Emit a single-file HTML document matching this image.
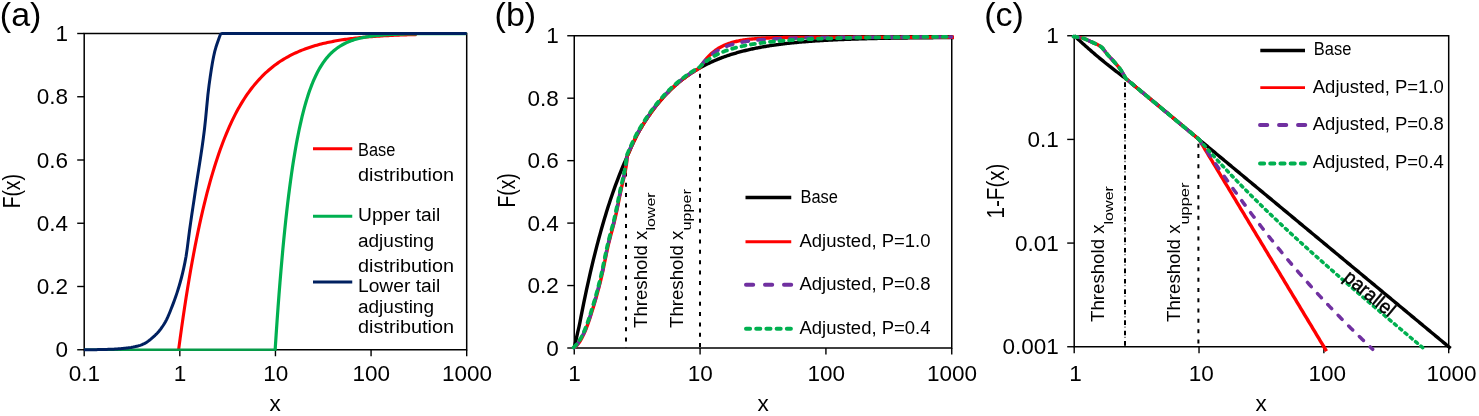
<!DOCTYPE html>
<html lang="en"><head><meta charset="utf-8"><title>Distribution tail adjustment</title>
<style>html,body{margin:0;padding:0;background:#fff}body{width:1479px;height:416px;overflow:hidden}svg{display:block}text{font-family:'Liberation Sans', sans-serif}</style></head><body>
<svg width="1479" height="416" viewBox="0 0 1479 416">
<rect width="1479" height="416" fill="#fff"/>
<g id="panel-a">
<path d="M84.20 33.50 H466.70 V349.75 H84.20 Z" fill="none" stroke="#000000" stroke-width="1.5"/>
<path d="M77.20 33.50 H84.20" stroke="#000000" stroke-width="1.4"/>
<text x="68.00" y="41.00" font-size="22.5" text-anchor="end" fill="#000">1</text>
<path d="M77.20 96.75 H84.20" stroke="#000000" stroke-width="1.4"/>
<text x="68.00" y="104.25" font-size="22.5" text-anchor="end" fill="#000">0.8</text>
<path d="M77.20 160.00 H84.20" stroke="#000000" stroke-width="1.4"/>
<text x="68.00" y="167.50" font-size="22.5" text-anchor="end" fill="#000">0.6</text>
<path d="M77.20 223.25 H84.20" stroke="#000000" stroke-width="1.4"/>
<text x="68.00" y="230.75" font-size="22.5" text-anchor="end" fill="#000">0.4</text>
<path d="M77.20 286.50 H84.20" stroke="#000000" stroke-width="1.4"/>
<text x="68.00" y="294.00" font-size="22.5" text-anchor="end" fill="#000">0.2</text>
<path d="M77.20 349.75 H84.20" stroke="#000000" stroke-width="1.4"/>
<text x="68.00" y="357.25" font-size="22.5" text-anchor="end" fill="#000">0</text>
<path d="M84.20 349.75 V356.25" stroke="#000000" stroke-width="1.4"/>
<text x="84.50" y="381.20" font-size="22.5" text-anchor="middle" fill="#000">0.1</text>
<path d="M179.82 349.75 V356.25" stroke="#000000" stroke-width="1.4"/>
<text x="180.12" y="381.20" font-size="22.5" text-anchor="middle" fill="#000">1</text>
<path d="M275.45 349.75 V356.25" stroke="#000000" stroke-width="1.4"/>
<text x="275.75" y="381.20" font-size="22.5" text-anchor="middle" fill="#000">10</text>
<path d="M371.07 349.75 V356.25" stroke="#000000" stroke-width="1.4"/>
<text x="371.38" y="381.20" font-size="22.5" text-anchor="middle" fill="#000">100</text>
<path d="M466.70 349.75 V356.25" stroke="#000000" stroke-width="1.4"/>
<text x="467.00" y="381.20" font-size="22.5" text-anchor="middle" fill="#000">1000</text>
<path d="M178.62 349.75 L180.11 338.61 L181.60 327.86 L183.09 317.48 L184.58 307.48 L186.07 297.82 L187.56 288.51 L189.05 279.52 L190.54 270.85 L192.03 262.49 L193.52 254.42 L195.01 246.64 L196.50 239.13 L197.99 231.88 L199.48 224.89 L200.97 218.15 L202.46 211.64 L203.95 205.36 L205.44 199.31 L206.93 193.46 L208.42 187.83 L209.91 182.39 L211.40 177.14 L212.89 172.08 L214.38 167.20 L215.87 162.49 L217.36 157.94 L218.85 153.56 L220.34 149.33 L221.83 145.25 L223.32 141.31 L224.81 137.51 L226.30 133.84 L227.79 130.31 L229.28 126.90 L230.77 123.61 L232.26 120.43 L233.75 117.37 L235.24 114.41 L236.73 111.56 L238.22 108.81 L239.72 106.16 L241.24 103.60 L242.76 101.13 L244.28 98.74 L245.80 96.44 L247.32 94.23 L248.84 92.09 L250.36 90.02 L251.88 88.03 L253.40 86.11 L254.92 84.26 L256.44 82.47 L257.96 80.74 L259.48 79.08 L261.00 77.47 L262.52 75.92 L264.04 74.43 L265.56 72.98 L267.08 71.59 L268.60 70.25 L270.12 68.96 L271.64 67.71 L273.15 66.50 L274.67 65.34 L276.19 64.22 L277.71 63.13 L279.23 62.09 L280.75 61.08 L282.27 60.11 L283.79 59.17 L285.31 58.27 L286.83 57.40 L288.35 56.55 L289.87 55.74 L291.39 54.96 L292.91 54.20 L294.43 53.47 L295.95 52.77 L297.47 52.09 L298.99 51.43 L300.50 50.80 L301.99 50.19 L303.48 49.60 L304.97 49.04 L306.46 48.49 L307.95 47.96 L309.44 47.45 L310.93 46.96 L312.42 46.49 L313.91 46.03 L315.39 45.59 L316.88 45.16 L318.37 44.75 L319.86 44.35 L321.35 43.97 L322.84 43.60 L324.33 43.25 L325.82 42.90 L327.31 42.57 L328.80 42.25 L330.29 41.94 L331.78 41.65 L333.27 41.36 L334.76 41.08 L336.25 40.81 L337.74 40.56 L339.23 40.31 L340.72 40.07 L342.21 39.84 L343.70 39.61 L345.19 39.40 L346.68 39.19 L348.17 38.99 L349.66 38.80 L351.15 38.61 L352.64 38.43 L354.13 38.26 L355.62 38.09 L357.11 37.93 L358.60 37.77 L360.09 37.62 L361.58 37.48 L363.07 37.34 L364.56 37.20 L366.05 37.07 L367.54 36.94 L369.03 36.82 L370.52 36.71 L372.01 36.59 L373.50 36.48 L374.99 36.38 L376.48 36.28 L377.97 36.18 L379.46 36.08 L380.95 35.99 L382.43 35.91 L383.92 35.82 L385.41 35.74 L386.90 35.66 L388.39 35.58 L389.88 35.51 L391.37 35.44 L392.86 35.37 L394.35 35.31 L395.84 35.24 L397.33 35.18 L398.82 35.12 L400.31 35.06 L401.80 35.01 L403.29 34.96 L404.78 34.90 L406.27 34.86 L407.76 34.81 L409.25 34.76 L410.74 34.72 L412.23 34.67 L413.72 34.63 L415.21 34.59 L416.70 34.55" fill="none" stroke="#ff0000" stroke-width="3.1" stroke-linejoin="round" stroke-linecap="butt"/>
<path d="M84.20 349.75 H276.65" stroke="#069a48" stroke-width="2.3"/>
<path d="M275.15 349.75 L276.11 335.03 L277.07 320.99 L278.03 307.61 L278.99 294.85 L279.96 282.68 L280.92 271.08 L281.88 260.02 L282.84 249.47 L283.80 239.42 L284.76 229.83 L285.72 220.69 L286.68 211.98 L287.64 203.67 L288.60 195.75 L289.57 188.20 L290.53 180.99 L291.49 174.13 L292.45 167.58 L293.41 161.34 L294.37 155.39 L295.33 149.71 L296.29 144.30 L297.25 139.15 L298.22 134.23 L299.18 129.54 L300.14 125.07 L301.10 120.80 L302.06 116.74 L303.02 112.86 L303.98 109.17 L304.94 105.65 L305.90 102.29 L306.86 99.09 L307.83 96.03 L308.79 93.12 L309.75 90.35 L310.71 87.70 L311.67 85.18 L312.63 82.77 L313.59 80.48 L314.55 78.29 L315.51 76.21 L316.48 74.22 L317.44 72.32 L318.40 70.51 L319.36 68.79 L320.32 67.15 L321.28 65.58 L322.24 64.09 L323.20 62.66 L324.16 61.31 L325.12 60.01 L326.09 58.78 L327.05 57.60 L328.01 56.48 L328.97 55.41 L329.93 54.39 L330.89 53.42 L331.85 52.49 L332.81 51.61 L333.77 50.76 L334.74 49.96 L335.70 49.19 L336.66 48.46 L337.62 47.77 L338.58 47.10 L339.54 46.47 L340.50 45.86 L341.46 45.29 L342.42 44.74 L343.38 44.22 L344.35 43.72 L345.31 43.24 L346.27 42.79 L347.23 42.36 L348.19 41.94 L349.15 41.55 L350.11 41.18 L351.07 40.82 L352.03 40.48 L353.00 40.15 L353.96 39.84 L354.92 39.55 L355.88 39.27 L356.84 39.00 L357.80 38.74 L358.76 38.50 L359.72 38.27 L360.68 38.04 L361.64 37.83 L362.61 37.63 L363.57 37.44 L364.53 37.25 L365.49 37.08 L366.45 36.91 L367.41 36.75 L368.37 36.60 L369.33 36.46 L370.29 36.32 L371.26 36.19 L372.22 36.06 L373.18 35.94 L374.14 35.83 L375.10 35.72 L376.06 35.62 L377.02 35.52 L377.98 35.43 L378.94 35.34 L379.91 35.25 L380.87 35.17 L381.83 35.09 L382.79 35.02 L383.75 34.95 L384.71 34.88 L385.67 34.82 L386.63 34.75 L387.59 34.70 L388.55 34.64 L389.52 34.59 L390.48 34.54 L391.44 34.49 L392.40 34.44 L393.36 34.40 L394.32 34.36 L395.28 34.32 L396.24 34.28 L397.20 34.24 L398.17 34.21 L399.13 34.17 L400.09 34.14 L401.05 34.11 L402.01 34.09 L402.97 34.06 L403.93 34.03 L404.89 34.01 L405.85 33.98 L406.81 33.96 L407.78 33.94 L408.74 33.92 L409.70 33.90 L410.66 33.88 L411.62 33.86 L412.58 33.85 L413.54 33.83 L414.50 33.81 L415.46 33.80 L416.43 33.79 L417.39 33.77 L418.35 33.76 L419.31 33.75 L420.27 33.74 L421.23 33.73 L422.19 33.71 L423.15 33.70 L424.11 33.70 L425.07 33.69 L426.04 33.68 L427.00 33.67 L427.96 33.66 L428.92 33.65 L429.88 33.65 L430.84 33.64 L431.80 33.63 L432.76 33.63 L433.72 33.62 L434.69 33.62 L435.65 33.61 L436.61 33.61 L437.57 33.60 L438.53 33.60 L439.49 33.59 L440.45 33.59 L441.41 33.58 L442.37 33.58 L443.33 33.58 L444.30 33.57 L445.26 33.57 L446.22 33.57 L447.18 33.56 L448.14 33.56 L449.10 33.56 L450.06 33.55 L451.02 33.55 L451.98 33.55 L452.95 33.55 L453.91 33.54 L454.87 33.54 L455.83 33.54 L456.79 33.54 L457.75 33.54 L458.71 33.54 L459.67 33.53 L460.63 33.53 L461.59 33.53 L462.56 33.53 L463.52 33.53 L464.48 33.53 L465.44 33.53 L466.40 33.52" fill="none" stroke="#00b050" stroke-width="3.2" stroke-linejoin="miter" stroke-linecap="butt"/>
<path d="M84.00 349.75 L85.15 349.75 L86.29 349.75 L87.44 349.74 L88.59 349.73 L89.74 349.72 L90.88 349.71 L92.03 349.70 L93.18 349.68 L94.32 349.67 L95.47 349.65 L96.62 349.63 L97.76 349.61 L98.91 349.58 L100.06 349.56 L101.21 349.53 L102.35 349.51 L103.50 349.48 L104.65 349.45 L105.79 349.42 L106.94 349.39 L108.09 349.36 L109.24 349.32 L110.38 349.29 L111.53 349.25 L112.68 349.20 L113.82 349.14 L114.97 349.08 L116.12 349.00 L117.26 348.92 L118.41 348.84 L119.56 348.74 L120.71 348.64 L121.85 348.53 L123.00 348.42 L124.15 348.30 L125.29 348.17 L126.44 348.04 L127.59 347.90 L128.74 347.76 L129.88 347.62 L131.03 347.46 L132.18 347.27 L133.32 347.07 L134.47 346.84 L135.62 346.58 L136.76 346.30 L137.91 346.00 L139.06 345.66 L140.21 345.31 L141.35 344.92 L142.50 344.49 L143.65 343.98 L144.79 343.38 L145.94 342.70 L147.09 341.95 L148.24 341.13 L149.38 340.26 L150.53 339.34 L151.68 338.37 L152.82 337.37 L153.97 336.33 L155.12 335.28 L156.26 334.17 L157.41 332.97 L158.56 331.68 L159.71 330.29 L160.85 328.81 L162.00 327.22 L163.15 325.52 L164.29 323.73 L165.44 321.79 L166.59 319.59 L167.74 317.14 L168.88 314.50 L170.03 311.70 L171.18 308.81 L172.32 305.86 L173.47 302.86 L174.62 299.76 L175.76 296.53 L176.91 293.14 L178.06 289.57 L179.21 285.78 L180.35 281.75 L181.50 277.49 L182.65 272.92 L183.79 267.93 L184.94 262.41 L186.09 256.21 L187.24 248.38 L188.38 239.38 L189.53 230.46 L190.68 222.38 L191.82 214.57 L192.97 206.89 L194.12 199.26 L195.26 191.59 L196.41 183.95 L197.56 176.57 L198.71 169.32 L199.85 162.03 L201.00 154.56 L202.15 146.75 L203.29 138.44 L204.44 129.48 L205.59 118.88 L206.74 106.76 L207.88 95.00 L209.03 85.39 L210.18 77.10 L211.32 69.43 L212.47 62.53 L213.62 56.48 L214.76 51.42 L215.91 47.30 L217.06 43.75 L218.21 40.40 L219.35 37.22 L220.50 34.30 L222.00 33.50 L466.70 33.50" fill="none" stroke="#002060" stroke-width="3.0" stroke-linejoin="round" stroke-linecap="butt"/>
<text x="-0.20" y="26.40" font-size="34" text-anchor="start" fill="#000">(a)</text>
<text x="19.80" y="191.20" font-size="23" text-anchor="middle" fill="#000" textLength="34.30" lengthAdjust="spacingAndGlyphs" transform="rotate(-90 19.80 191.20)">F(x)</text>
<text x="275.00" y="411.20" font-size="22.5" text-anchor="middle" fill="#000">x</text>
<path d="M313 148.75 H352.25" stroke="#ff0000" stroke-width="2.8"/>
<path d="M313 216.25 H352.25" stroke="#00b050" stroke-width="2.8"/>
<path d="M313 282.00 H352.25" stroke="#002060" stroke-width="2.8"/>
<text x="358.00" y="155.75" font-size="18" text-anchor="start" fill="#000" textLength="37.25" lengthAdjust="spacingAndGlyphs">Base</text>
<text x="358.00" y="181.25" font-size="18" text-anchor="start" fill="#000" textLength="96.00" lengthAdjust="spacingAndGlyphs">distribution</text>
<text x="358.00" y="221.25" font-size="18" text-anchor="start" fill="#000" textLength="82.25" lengthAdjust="spacingAndGlyphs">Upper tail</text>
<text x="358.00" y="246.75" font-size="18" text-anchor="start" fill="#000" textLength="76.00" lengthAdjust="spacingAndGlyphs">adjusting</text>
<text x="358.00" y="271.75" font-size="18" text-anchor="start" fill="#000" textLength="96.00" lengthAdjust="spacingAndGlyphs">distribution</text>
<text x="358.00" y="291.75" font-size="18" text-anchor="start" fill="#000" textLength="82.25" lengthAdjust="spacingAndGlyphs">Lower tail</text>
<text x="358.00" y="312.50" font-size="18" text-anchor="start" fill="#000" textLength="76.00" lengthAdjust="spacingAndGlyphs">adjusting</text>
<text x="358.00" y="333.00" font-size="18" text-anchor="start" fill="#000" textLength="96.00" lengthAdjust="spacingAndGlyphs">distribution</text>
</g>
<g id="panel-b">
<path d="M574.25 35.75 H951.75 V348.00 H574.25 Z" fill="none" stroke="#000000" stroke-width="1.5"/>
<path d="M567.25 35.75 H574.25" stroke="#000000" stroke-width="1.4"/>
<text x="558.80" y="43.25" font-size="22.5" text-anchor="end" fill="#000">1</text>
<path d="M567.25 98.20 H574.25" stroke="#000000" stroke-width="1.4"/>
<text x="558.80" y="105.70" font-size="22.5" text-anchor="end" fill="#000">0.8</text>
<path d="M567.25 160.65 H574.25" stroke="#000000" stroke-width="1.4"/>
<text x="558.80" y="168.15" font-size="22.5" text-anchor="end" fill="#000">0.6</text>
<path d="M567.25 223.10 H574.25" stroke="#000000" stroke-width="1.4"/>
<text x="558.80" y="230.60" font-size="22.5" text-anchor="end" fill="#000">0.4</text>
<path d="M567.25 285.55 H574.25" stroke="#000000" stroke-width="1.4"/>
<text x="558.80" y="293.05" font-size="22.5" text-anchor="end" fill="#000">0.2</text>
<path d="M567.25 348.00 H574.25" stroke="#000000" stroke-width="1.4"/>
<text x="558.80" y="355.50" font-size="22.5" text-anchor="end" fill="#000">0</text>
<path d="M574.25 348.00 V354.50" stroke="#000000" stroke-width="1.4"/>
<text x="574.55" y="381.20" font-size="22.5" text-anchor="middle" fill="#000">1</text>
<path d="M700.08 348.00 V354.50" stroke="#000000" stroke-width="1.4"/>
<text x="700.38" y="381.20" font-size="22.5" text-anchor="middle" fill="#000">10</text>
<path d="M825.92 348.00 V354.50" stroke="#000000" stroke-width="1.4"/>
<text x="826.22" y="381.20" font-size="22.5" text-anchor="middle" fill="#000">100</text>
<path d="M951.75 348.00 V354.50" stroke="#000000" stroke-width="1.4"/>
<text x="952.05" y="381.20" font-size="22.5" text-anchor="middle" fill="#000">1000</text>
<path d="M626 172.5 V348.00" stroke="#000" stroke-width="2" stroke-dasharray="4 6.31"/>
<path d="M700 73.75 V348.00" stroke="#000" stroke-width="2" stroke-dasharray="4 6.36"/>
<path d="M574.25 348.00 L575.41 342.64 L576.58 337.37 L577.75 332.20 L578.93 327.11 L579.98 322.11 L580.93 317.19 L581.87 312.36 L582.82 307.61 L583.77 302.95 L584.71 298.36 L585.66 293.85 L586.60 289.42 L587.55 285.07 L588.50 280.79 L589.44 276.59 L590.39 272.45 L591.33 268.39 L592.28 264.40 L593.23 260.47 L594.17 256.62 L595.12 252.83 L596.06 249.10 L597.01 245.44 L597.96 241.84 L598.90 238.30 L599.85 234.83 L600.80 231.41 L601.74 228.05 L602.69 224.75 L603.63 221.51 L604.58 218.32 L605.53 215.19 L606.47 212.11 L607.42 209.09 L608.36 206.11 L609.31 203.19 L610.26 200.32 L611.20 197.50 L612.15 194.72 L613.09 192.00 L614.04 189.32 L614.99 186.69 L615.93 184.10 L616.88 181.56 L617.83 179.06 L618.77 176.60 L619.72 174.19 L620.66 171.82 L621.61 169.49 L622.56 167.20 L623.50 164.95 L624.45 162.73 L625.39 160.56 L626.33 158.42 L627.20 156.33 L627.37 155.93 L628.07 154.26 L628.94 152.24 L629.82 150.24 L630.69 148.29 L631.56 146.36 L632.43 144.47 L633.30 142.61 L634.17 140.79 L635.04 139.00 L635.91 137.23 L636.78 135.50 L637.65 133.80 L638.59 132.13 L639.53 130.48 L640.48 128.87 L641.42 127.28 L642.37 125.72 L643.32 124.19 L644.26 122.68 L645.21 121.20 L646.15 119.75 L647.10 118.32 L648.05 116.91 L648.99 115.53 L649.94 114.18 L650.89 112.85 L651.83 111.54 L652.78 110.25 L653.72 108.99 L654.67 107.74 L655.62 106.52 L656.56 105.32 L657.51 104.15 L658.45 102.99 L659.40 101.85 L660.35 100.73 L661.29 99.63 L662.24 98.55 L663.18 97.49 L664.13 96.45 L665.08 95.43 L666.02 94.42 L666.97 93.43 L667.92 92.46 L668.86 91.50 L669.81 90.56 L670.75 89.64 L671.70 88.74 L672.65 87.85 L673.59 86.97 L674.54 86.11 L675.48 85.27 L676.43 84.44 L677.38 83.62 L678.32 82.82 L679.27 82.03 L680.21 81.26 L681.16 80.50 L682.11 79.75 L683.05 79.01 L684.00 78.29 L684.95 77.58 L685.89 76.89 L686.84 76.20 L687.78 75.53 L688.73 74.87 L689.68 74.22 L690.62 73.58 L691.57 72.95 L692.51 72.33 L693.46 71.73 L694.41 71.13 L695.35 70.55 L696.30 69.97 L697.24 69.41 L698.19 68.85 L699.14 68.31 L700.08 67.77 L701.03 67.25 L701.98 66.73 L702.92 66.22 L703.87 65.72 L704.81 65.23 L705.76 64.75 L706.71 64.27 L707.65 63.80 L708.60 63.35 L709.54 62.90 L710.49 62.45 L711.44 62.02 L712.38 61.59 L713.33 61.17 L714.28 60.76 L715.22 60.35 L716.17 59.96 L717.11 59.57 L718.06 59.18 L719.01 58.80 L719.95 58.43 L720.90 58.07 L721.84 57.71 L722.79 57.35 L723.74 57.01 L724.68 56.67 L725.63 56.33 L726.57 56.00 L727.52 55.68 L728.47 55.36 L729.41 55.05 L730.36 54.74 L731.31 54.44 L732.25 54.15 L733.20 53.86 L734.14 53.57 L735.09 53.29 L736.04 53.01 L736.98 52.74 L737.93 52.47 L738.87 52.21 L739.82 51.96 L740.77 51.70 L741.71 51.45 L742.66 51.21 L743.60 50.97 L744.55 50.73 L745.50 50.50 L746.44 50.27 L747.39 50.05 L748.34 49.83 L749.28 49.61 L750.23 49.40 L751.17 49.19 L752.12 48.98 L753.07 48.78 L754.01 48.58 L754.96 48.39 L755.90 48.20 L756.85 48.01 L757.80 47.82 L758.74 47.64 L759.69 47.46 L760.63 47.29 L761.58 47.11 L762.53 46.94 L763.47 46.78 L764.42 46.61 L765.37 46.45 L766.31 46.29 L767.26 46.14 L768.20 45.99 L769.15 45.84 L770.10 45.69 L771.04 45.54 L771.99 45.40 L772.93 45.26 L773.88 45.12 L774.83 44.99 L775.77 44.85 L776.72 44.72 L777.66 44.60 L778.61 44.47 L779.56 44.34 L780.50 44.22 L781.45 44.10 L782.40 43.99 L783.34 43.87 L784.29 43.76 L785.23 43.64 L786.18 43.53 L787.13 43.43 L788.07 43.32 L789.02 43.22 L789.96 43.11 L790.91 43.01 L791.86 42.91 L792.80 42.82 L793.75 42.72 L794.69 42.63 L795.64 42.53 L796.59 42.44 L797.53 42.35 L798.48 42.27 L799.43 42.18 L800.37 42.10 L801.32 42.01 L802.26 41.93 L803.21 41.85 L804.16 41.77 L805.10 41.69 L806.05 41.62 L806.99 41.54 L807.94 41.47 L808.89 41.40 L809.83 41.32 L810.78 41.25 L811.72 41.19 L812.67 41.12 L813.62 41.05 L814.56 40.99 L815.51 40.92 L816.46 40.86 L817.40 40.80 L818.35 40.74 L819.29 40.68 L820.24 40.62 L821.19 40.56 L822.13 40.50 L823.08 40.45 L824.02 40.39 L824.97 40.34 L825.92 40.28 L826.86 40.23 L827.81 40.18 L828.76 40.13 L829.70 40.08 L830.65 40.03 L831.59 39.99 L832.54 39.94 L833.49 39.89 L834.43 39.85 L835.38 39.80 L836.32 39.76 L837.27 39.72 L838.22 39.67 L839.16 39.63 L840.11 39.59 L841.05 39.55 L842.00 39.51 L842.95 39.47 L843.89 39.43 L844.84 39.40 L845.79 39.36 L846.73 39.32 L847.68 39.29 L848.62 39.25 L849.57 39.22 L850.52 39.18 L851.46 39.15 L852.41 39.12 L853.35 39.09 L854.30 39.05 L855.25 39.02 L856.19 38.99 L857.14 38.96 L858.08 38.93 L859.03 38.91 L859.98 38.88 L860.92 38.85 L861.87 38.82 L862.82 38.79 L863.76 38.77 L864.71 38.74 L865.65 38.72 L866.60 38.69 L867.55 38.67 L868.49 38.64 L869.44 38.62 L870.38 38.59 L871.33 38.57 L872.28 38.55 L873.22 38.53 L874.17 38.50 L875.11 38.48 L876.06 38.46 L877.01 38.44 L877.95 38.42 L878.90 38.40 L879.85 38.38 L880.79 38.36 L881.74 38.34 L882.68 38.32 L883.63 38.31 L884.58 38.29 L885.52 38.27 L886.47 38.25 L887.41 38.23 L888.36 38.22 L889.31 38.20 L890.25 38.18 L891.20 38.17 L892.14 38.15 L893.09 38.14 L894.04 38.12 L894.98 38.11 L895.93 38.09 L896.88 38.08 L897.82 38.06 L898.77 38.05 L899.71 38.04 L900.66 38.02 L901.61 38.01 L902.55 38.00 L903.50 37.98 L904.44 37.97 L905.39 37.96 L906.34 37.95 L907.28 37.93 L908.23 37.92 L909.17 37.91 L910.12 37.90 L911.07 37.89 L912.01 37.88 L912.96 37.87 L913.91 37.86 L914.85 37.85 L915.80 37.84 L916.74 37.83 L917.69 37.82 L918.64 37.81 L919.58 37.80 L920.53 37.79 L921.47 37.78 L922.42 37.77 L923.37 37.76 L924.31 37.75 L925.26 37.74 L926.20 37.73 L927.15 37.73 L928.10 37.72 L929.04 37.71 L929.99 37.70 L930.94 37.69 L931.88 37.69 L932.83 37.68 L933.77 37.67 L934.72 37.66 L935.67 37.66 L936.61 37.65 L937.56 37.64 L938.50 37.64 L939.45 37.63 L940.40 37.62 L941.34 37.62 L942.29 37.61 L943.23 37.60 L944.18 37.60 L945.13 37.59 L946.07 37.59 L947.02 37.58 L947.97 37.58 L948.91 37.57 L949.86 37.56 L950.80 37.56 L951.75 37.55 L953.95 37.54" fill="none" stroke="#000000" stroke-width="3.4" stroke-linejoin="round" stroke-linecap="butt"/>
<path d="M574.25 348.00 L575.41 346.87 L576.58 345.63 L577.75 344.28 L578.93 342.84 L579.98 341.30 L580.93 339.67 L581.87 337.91 L582.82 336.03 L583.77 334.04 L584.71 331.94 L585.66 329.73 L586.60 327.41 L587.55 324.91 L588.50 322.26 L589.44 319.47 L590.39 316.57 L591.33 313.59 L592.28 310.53 L593.23 307.44 L594.17 304.31 L595.12 301.10 L596.06 297.80 L597.01 294.41 L597.96 290.92 L598.90 287.34 L599.85 283.65 L600.80 279.85 L601.74 275.86 L602.69 271.58 L603.63 267.09 L604.58 262.48 L605.53 257.84 L606.47 253.27 L607.42 248.84 L608.36 244.66 L609.31 240.77 L610.26 237.13 L611.20 233.62 L612.15 230.15 L613.09 226.61 L614.04 222.91 L614.99 218.94 L615.93 214.70 L616.88 210.24 L617.83 205.64 L618.77 200.96 L619.72 196.28 L620.66 191.66 L621.61 187.24 L622.56 183.17 L623.50 179.19 L624.45 175.02 L625.39 170.36 L626.33 164.93 L627.20 157.54 L627.37 155.93 L628.07 154.26 L628.94 152.24 L629.82 150.24 L630.69 148.29 L631.56 146.36 L632.43 144.47 L633.30 142.61 L634.17 140.79 L635.04 139.00 L635.91 137.23 L636.78 135.50 L637.65 133.80 L638.59 132.13 L639.53 130.48 L640.48 128.87 L641.42 127.28 L642.37 125.72 L643.32 124.19 L644.26 122.68 L645.21 121.20 L646.15 119.75 L647.10 118.32 L648.05 116.91 L648.99 115.53 L649.94 114.18 L650.89 112.85 L651.83 111.54 L652.78 110.25 L653.72 108.99 L654.67 107.74 L655.62 106.52 L656.56 105.32 L657.51 104.15 L658.45 102.99 L659.40 101.85 L660.35 100.73 L661.29 99.63 L662.24 98.55 L663.18 97.49 L664.13 96.45 L665.08 95.43 L666.02 94.42 L666.97 93.43 L667.92 92.46 L668.86 91.50 L669.81 90.56 L670.75 89.64 L671.70 88.74 L672.65 87.85 L673.59 86.97 L674.54 86.11 L675.48 85.27 L676.43 84.44 L677.38 83.62 L678.32 82.82 L679.27 82.03 L680.21 81.26 L681.16 80.50 L682.11 79.75 L683.05 79.01 L684.00 78.29 L684.95 77.58 L685.89 76.89 L686.84 76.20 L687.78 75.53 L688.73 74.87 L689.68 74.22 L690.62 73.58 L691.57 72.95 L692.51 72.33 L693.46 71.73 L694.41 71.13 L695.35 70.55 L696.30 69.97 L697.24 69.41 L698.19 68.85 L699.14 68.31 L700.08 67.77 L701.03 66.22 L701.98 64.75 L702.92 63.35 L703.87 62.02 L704.81 60.76 L705.76 59.57 L706.71 58.43 L707.65 57.35 L708.60 56.33 L709.54 55.36 L710.49 54.44 L711.44 53.57 L712.38 52.74 L713.33 51.96 L714.28 51.21 L715.22 50.50 L716.17 49.83 L717.11 49.19 L718.06 48.58 L719.01 48.01 L719.95 47.46 L720.90 46.94 L721.84 46.45 L722.79 45.99 L723.74 45.54 L724.68 45.12 L725.63 44.72 L726.57 44.34 L727.52 43.99 L728.47 43.64 L729.41 43.32 L730.36 43.01 L731.31 42.72 L732.25 42.44 L733.20 42.18 L734.14 41.93 L735.09 41.69 L736.04 41.47 L736.98 41.25 L737.93 41.05 L738.87 40.86 L739.82 40.68 L740.77 40.50 L741.71 40.34 L742.66 40.18 L743.60 40.03 L744.55 39.89 L745.50 39.76 L746.44 39.63 L747.39 39.51 L748.34 39.40 L749.28 39.29 L750.23 39.18 L751.17 39.09 L752.12 38.99 L753.07 38.91 L754.01 38.82 L754.96 38.74 L755.90 38.67 L756.85 38.59 L757.80 38.53 L758.74 38.46 L759.69 38.40 L760.63 38.34 L761.58 38.29 L762.53 38.23 L763.47 38.18 L764.42 38.14 L765.37 38.09 L766.31 38.05 L767.26 38.01 L768.20 37.97 L769.15 37.93 L770.10 37.90 L771.04 37.87 L771.99 37.84 L772.93 37.81 L773.88 37.78 L774.83 37.75 L775.77 37.73 L776.72 37.70 L777.66 37.68 L778.61 37.66 L779.56 37.64 L780.50 37.62 L781.45 37.60 L782.40 37.58 L783.34 37.56 L784.29 37.55 L785.23 37.53 L786.18 37.52 L787.13 37.51 L788.07 37.49 L789.02 37.48 L789.96 37.47 L790.91 37.46 L791.86 37.45 L792.80 37.44 L793.75 37.43 L794.69 37.42 L795.64 37.41 L796.59 37.40 L797.53 37.39 L798.48 37.39 L799.43 37.38 L800.37 37.37 L801.32 37.37 L802.26 37.36 L803.21 37.36 L804.16 37.35 L805.10 37.35 L806.05 37.34 L806.99 37.34 L807.94 37.33 L808.89 37.33 L809.83 37.32 L810.78 37.32 L811.72 37.32 L812.67 37.31 L813.62 37.31 L814.56 37.31 L815.51 37.30 L816.46 37.30 L817.40 37.30 L818.35 37.30 L819.29 37.29 L820.24 37.29 L821.19 37.29 L822.13 37.29 L823.08 37.29 L824.02 37.28 L824.97 37.28 L825.92 37.28 L826.86 37.28 L827.81 37.28 L828.76 37.28 L829.70 37.27 L830.65 37.27 L831.59 37.27 L832.54 37.27 L833.49 37.27 L834.43 37.27 L835.38 37.27 L836.32 37.27 L837.27 37.27 L838.22 37.27 L839.16 37.26 L840.11 37.26 L841.05 37.26 L842.00 37.26 L842.95 37.26 L843.89 37.26 L844.84 37.26 L845.79 37.26 L846.73 37.26 L847.68 37.26 L848.62 37.26 L849.57 37.26 L850.52 37.26 L851.46 37.26 L852.41 37.26 L853.35 37.26 L854.30 37.26 L855.25 37.26 L856.19 37.26 L857.14 37.26 L858.08 37.26 L859.03 37.25 L859.98 37.25 L860.92 37.25 L861.87 37.25 L862.82 37.25 L863.76 37.25 L864.71 37.25 L865.65 37.25 L866.60 37.25 L867.55 37.25 L868.49 37.25 L869.44 37.25 L870.38 37.25 L871.33 37.25 L872.28 37.25 L873.22 37.25 L874.17 37.25 L875.11 37.25 L876.06 37.25 L877.01 37.25 L877.95 37.25 L878.90 37.25 L879.85 37.25 L880.79 37.25 L881.74 37.25 L882.68 37.25 L883.63 37.25 L884.58 37.25 L885.52 37.25 L886.47 37.25 L887.41 37.25 L888.36 37.25 L889.31 37.25 L890.25 37.25 L891.20 37.25 L892.14 37.25 L893.09 37.25 L894.04 37.25 L894.98 37.25 L895.93 37.25 L896.88 37.25 L897.82 37.25 L898.77 37.25 L899.71 37.25 L900.66 37.25 L901.61 37.25 L902.55 37.25 L903.50 37.25 L904.44 37.25 L905.39 37.25 L906.34 37.25 L907.28 37.25 L908.23 37.25 L909.17 37.25 L910.12 37.25 L911.07 37.25 L912.01 37.25 L912.96 37.25 L913.91 37.25 L914.85 37.25 L915.80 37.25 L916.74 37.25 L917.69 37.25 L918.64 37.25 L919.58 37.25 L920.53 37.25 L921.47 37.25 L922.42 37.25 L923.37 37.25 L924.31 37.25 L925.26 37.25 L926.20 37.25 L927.15 37.25 L928.10 37.25 L929.04 37.25 L929.99 37.25 L930.94 37.25 L931.88 37.25 L932.83 37.25 L933.77 37.25 L934.72 37.25 L935.67 37.25 L936.61 37.25 L937.56 37.25 L938.50 37.25 L939.45 37.25 L940.40 37.25 L941.34 37.25 L942.29 37.25 L943.23 37.25 L944.18 37.25 L945.13 37.25 L946.07 37.25 L947.02 37.25 L947.97 37.25 L948.91 37.25 L949.86 37.25 L950.80 37.25 L951.75 37.25 L953.95 37.25" fill="none" stroke="#ff0000" stroke-width="3.4" stroke-linejoin="round" stroke-linecap="butt"/>
<path d="M573.95 347.70 L575.11 346.57 L576.28 345.33 L577.45 343.98 L578.63 342.54 L579.68 341.00 L580.63 339.37 L581.57 337.61 L582.52 335.73 L583.47 333.74 L584.41 331.64 L585.36 329.43 L586.30 327.11 L587.25 324.61 L588.20 321.96 L589.14 319.17 L590.09 316.27 L591.03 313.29 L591.98 310.23 L592.93 307.14 L593.87 304.01 L594.82 300.80 L595.76 297.50 L596.71 294.11 L597.66 290.62 L598.60 287.04 L599.55 283.35 L600.50 279.55 L601.44 275.56 L602.39 271.28 L603.33 266.79 L604.28 262.18 L605.23 257.54 L606.17 252.97 L607.12 248.54 L608.06 244.36 L609.01 240.47 L609.96 236.83 L610.90 233.32 L611.85 229.85 L612.79 226.31 L613.74 222.61 L614.69 218.64 L615.63 214.40 L616.58 209.94 L617.53 205.34 L618.47 200.66 L619.42 195.98 L620.36 191.36 L621.31 186.94 L622.26 182.87 L623.20 178.89 L624.15 174.72 L625.09 170.06 L626.03 164.63 L626.90 157.24 L627.07 155.63 L627.77 153.96 L628.64 151.94 L629.52 149.94 L630.39 147.99 L631.26 146.06 L632.13 144.17 L633.00 142.31 L633.87 140.49 L634.74 138.70 L635.61 136.93 L636.48 135.20 L637.35 133.50 L638.29 131.83 L639.23 130.18 L640.18 128.57 L641.12 126.98 L642.07 125.42 L643.02 123.89 L643.96 122.38 L644.91 120.90 L645.85 119.45 L646.80 118.02 L647.75 116.61 L648.69 115.23 L649.64 113.88 L650.59 112.55 L651.53 111.24 L652.48 109.95 L653.42 108.69 L654.37 107.44 L655.32 106.22 L656.26 105.02 L657.21 103.85 L658.15 102.69 L659.10 101.55 L660.05 100.43 L660.99 99.33 L661.94 98.25 L662.88 97.19 L663.83 96.15 L664.78 95.13 L665.72 94.12 L666.67 93.13 L667.62 92.16 L668.56 91.20 L669.51 90.26 L670.45 89.34 L671.40 88.44 L672.35 87.55 L673.29 86.67 L674.24 85.81 L675.18 84.97 L676.13 84.14 L677.08 83.32 L678.02 82.52 L678.97 81.73 L679.91 80.96 L680.86 80.20 L681.81 79.45 L682.75 78.71 L683.70 77.99 L684.65 77.28 L685.59 76.59 L686.54 75.90 L687.48 75.23 L688.43 74.57 L689.38 73.92 L690.32 73.28 L691.27 72.65 L692.21 72.03 L693.16 71.43 L694.11 70.83 L695.05 70.25 L696.00 69.67 L696.94 69.11 L697.89 68.55 L698.84 68.01 L699.78 67.47 L700.73 66.12 L701.68 64.84 L702.62 63.62 L703.57 62.46 L704.51 61.35 L705.46 60.30 L706.41 59.30 L707.35 58.34 L708.30 57.43 L709.24 56.57 L710.19 55.74 L711.14 54.96 L712.08 54.21 L713.03 53.50 L713.98 52.82 L714.92 52.17 L715.87 51.55 L716.81 50.96 L717.76 50.40 L718.71 49.86 L719.65 49.35 L720.60 48.87 L721.54 48.40 L722.49 47.96 L723.44 47.53 L724.38 47.13 L725.33 46.74 L726.27 46.37 L727.22 46.02 L728.17 45.68 L729.11 45.36 L730.06 45.05 L731.01 44.76 L731.95 44.48 L732.90 44.21 L733.84 43.95 L734.79 43.71 L735.74 43.47 L736.68 43.25 L737.63 43.03 L738.57 42.83 L739.52 42.63 L740.47 42.44 L741.41 42.26 L742.36 42.08 L743.30 41.92 L744.25 41.76 L745.20 41.60 L746.14 41.46 L747.09 41.31 L748.04 41.18 L748.98 41.05 L749.93 40.92 L750.87 40.80 L751.82 40.69 L752.77 40.58 L753.71 40.47 L754.66 40.37 L755.60 40.27 L756.55 40.17 L757.50 40.08 L758.44 39.99 L759.39 39.91 L760.33 39.83 L761.28 39.75 L762.23 39.67 L763.17 39.60 L764.12 39.53 L765.07 39.46 L766.01 39.40 L766.96 39.33 L767.90 39.27 L768.85 39.21 L769.80 39.16 L770.74 39.10 L771.69 39.05 L772.63 38.99 L773.58 38.94 L774.53 38.90 L775.47 38.85 L776.42 38.80 L777.36 38.76 L778.31 38.72 L779.26 38.68 L780.20 38.64 L781.15 38.60 L782.10 38.56 L783.04 38.52 L783.99 38.49 L784.93 38.45 L785.88 38.42 L786.83 38.39 L787.77 38.36 L788.72 38.33 L789.66 38.30 L790.61 38.27 L791.56 38.24 L792.50 38.21 L793.45 38.18 L794.39 38.16 L795.34 38.13 L796.29 38.11 L797.23 38.09 L798.18 38.06 L799.13 38.04 L800.07 38.02 L801.02 38.00 L801.96 37.97 L802.91 37.95 L803.86 37.93 L804.80 37.91 L805.75 37.89 L806.69 37.88 L807.64 37.86 L808.59 37.84 L809.53 37.82 L810.48 37.81 L811.42 37.79 L812.37 37.77 L813.32 37.76 L814.26 37.74 L815.21 37.73 L816.16 37.71 L817.10 37.70 L818.05 37.68 L818.99 37.67 L819.94 37.66 L820.89 37.64 L821.83 37.63 L822.78 37.62 L823.72 37.60 L824.67 37.59 L825.62 37.58 L826.56 37.57 L827.51 37.56 L828.46 37.55 L829.40 37.54 L830.35 37.52 L831.29 37.51 L832.24 37.50 L833.19 37.49 L834.13 37.48 L835.08 37.47 L836.02 37.47 L836.97 37.46 L837.92 37.45 L838.86 37.44 L839.81 37.43 L840.75 37.42 L841.70 37.41 L842.65 37.40 L843.59 37.40 L844.54 37.39 L845.49 37.38 L846.43 37.37 L847.38 37.36 L848.32 37.36 L849.27 37.35 L850.22 37.34 L851.16 37.34 L852.11 37.33 L853.05 37.32 L854.00 37.32 L854.95 37.31 L855.89 37.30 L856.84 37.30 L857.78 37.29 L858.73 37.28 L859.68 37.28 L860.62 37.27 L861.57 37.27 L862.52 37.26 L863.46 37.26 L864.41 37.25 L865.35 37.25 L866.30 37.24 L867.25 37.24 L868.19 37.23 L869.14 37.23 L870.08 37.22 L871.03 37.22 L871.98 37.21 L872.92 37.21 L873.87 37.20 L874.81 37.20 L875.76 37.19 L876.71 37.19 L877.65 37.19 L878.60 37.18 L879.55 37.18 L880.49 37.17 L881.44 37.17 L882.38 37.17 L883.33 37.16 L884.28 37.16 L885.22 37.15 L886.17 37.15 L887.11 37.15 L888.06 37.14 L889.01 37.14 L889.95 37.14 L890.90 37.13 L891.84 37.13 L892.79 37.13 L893.74 37.12 L894.68 37.12 L895.63 37.12 L896.58 37.12 L897.52 37.11 L898.47 37.11 L899.41 37.11 L900.36 37.10 L901.31 37.10 L902.25 37.10 L903.20 37.10 L904.14 37.09 L905.09 37.09 L906.04 37.09 L906.98 37.09 L907.93 37.08 L908.87 37.08 L909.82 37.08 L910.77 37.08 L911.71 37.08 L912.66 37.07 L913.61 37.07 L914.55 37.07 L915.50 37.07 L916.44 37.07 L917.39 37.06 L918.34 37.06 L919.28 37.06 L920.23 37.06 L921.17 37.06 L922.12 37.05 L923.07 37.05 L924.01 37.05 L924.96 37.05 L925.90 37.05 L926.85 37.05 L927.80 37.04 L928.74 37.04 L929.69 37.04 L930.64 37.04 L931.58 37.04 L932.53 37.04 L933.47 37.03 L934.42 37.03 L935.37 37.03 L936.31 37.03 L937.26 37.03 L938.20 37.03 L939.15 37.03 L940.10 37.02 L941.04 37.02 L941.99 37.02 L942.93 37.02 L943.88 37.02 L944.83 37.02 L945.77 37.02 L946.72 37.02 L947.67 37.02 L948.61 37.01 L949.56 37.01 L950.50 37.01 L951.45 37.01" fill="none" stroke="#7030a0" stroke-width="3.6" stroke-linejoin="round" stroke-linecap="round" stroke-dasharray="6.4 9.6"/>
<path d="M573.65 347.40 L574.81 346.27 L575.98 345.03 L577.15 343.68 L578.33 342.24 L579.38 340.70 L580.33 339.07 L581.27 337.31 L582.22 335.43 L583.17 333.44 L584.11 331.34 L585.06 329.13 L586.00 326.81 L586.95 324.31 L587.90 321.66 L588.84 318.87 L589.79 315.97 L590.73 312.99 L591.68 309.93 L592.63 306.84 L593.57 303.71 L594.52 300.50 L595.46 297.20 L596.41 293.81 L597.36 290.32 L598.30 286.74 L599.25 283.05 L600.20 279.25 L601.14 275.26 L602.09 270.98 L603.03 266.49 L603.98 261.88 L604.93 257.24 L605.87 252.67 L606.82 248.24 L607.76 244.06 L608.71 240.17 L609.66 236.53 L610.60 233.02 L611.55 229.55 L612.49 226.01 L613.44 222.31 L614.39 218.34 L615.33 214.10 L616.28 209.64 L617.23 205.04 L618.17 200.36 L619.12 195.68 L620.06 191.06 L621.01 186.64 L621.96 182.57 L622.90 178.59 L623.85 174.42 L624.79 169.76 L625.73 164.33 L626.60 156.94 L626.77 155.33 L627.47 153.66 L628.34 151.64 L629.22 149.64 L630.09 147.69 L630.96 145.76 L631.83 143.87 L632.70 142.01 L633.57 140.19 L634.44 138.40 L635.31 136.63 L636.18 134.90 L637.05 133.20 L637.99 131.53 L638.93 129.88 L639.88 128.27 L640.82 126.68 L641.77 125.12 L642.72 123.59 L643.66 122.08 L644.61 120.60 L645.55 119.15 L646.50 117.72 L647.45 116.31 L648.39 114.93 L649.34 113.58 L650.29 112.25 L651.23 110.94 L652.18 109.65 L653.12 108.39 L654.07 107.14 L655.02 105.92 L655.96 104.72 L656.91 103.55 L657.85 102.39 L658.80 101.25 L659.75 100.13 L660.69 99.03 L661.64 97.95 L662.58 96.89 L663.53 95.85 L664.48 94.83 L665.42 93.82 L666.37 92.83 L667.32 91.86 L668.26 90.90 L669.21 89.96 L670.15 89.04 L671.10 88.14 L672.05 87.25 L672.99 86.37 L673.94 85.51 L674.88 84.67 L675.83 83.84 L676.78 83.02 L677.72 82.22 L678.67 81.43 L679.61 80.66 L680.56 79.90 L681.51 79.15 L682.45 78.41 L683.40 77.69 L684.35 76.98 L685.29 76.29 L686.24 75.60 L687.18 74.93 L688.13 74.27 L689.08 73.62 L690.02 72.98 L690.97 72.35 L691.91 71.73 L692.86 71.13 L693.81 70.53 L694.75 69.95 L695.70 69.37 L696.64 68.81 L697.59 68.25 L698.54 67.71 L699.48 67.17 L700.43 66.23 L701.38 65.33 L702.32 64.47 L703.27 63.64 L704.21 62.84 L705.16 62.07 L706.11 61.33 L707.05 60.62 L708.00 59.94 L708.94 59.28 L709.89 58.65 L710.84 58.04 L711.78 57.45 L712.73 56.88 L713.68 56.34 L714.62 55.81 L715.57 55.30 L716.51 54.81 L717.46 54.34 L718.41 53.88 L719.35 53.44 L720.30 53.01 L721.24 52.60 L722.19 52.20 L723.14 51.82 L724.08 51.44 L725.03 51.08 L725.97 50.73 L726.92 50.40 L727.87 50.07 L728.81 49.75 L729.76 49.45 L730.71 49.15 L731.65 48.86 L732.60 48.58 L733.54 48.31 L734.49 48.04 L735.44 47.79 L736.38 47.54 L737.33 47.30 L738.27 47.06 L739.22 46.84 L740.17 46.62 L741.11 46.40 L742.06 46.19 L743.00 45.99 L743.95 45.79 L744.90 45.60 L745.84 45.41 L746.79 45.23 L747.74 45.05 L748.68 44.88 L749.63 44.71 L750.57 44.54 L751.52 44.38 L752.47 44.23 L753.41 44.07 L754.36 43.92 L755.30 43.78 L756.25 43.64 L757.20 43.50 L758.14 43.37 L759.09 43.23 L760.03 43.10 L760.98 42.98 L761.93 42.86 L762.87 42.74 L763.82 42.62 L764.77 42.51 L765.71 42.39 L766.66 42.28 L767.60 42.18 L768.55 42.07 L769.50 41.97 L770.44 41.87 L771.39 41.77 L772.33 41.68 L773.28 41.58 L774.23 41.49 L775.17 41.40 L776.12 41.31 L777.06 41.23 L778.01 41.14 L778.96 41.06 L779.90 40.98 L780.85 40.90 L781.80 40.82 L782.74 40.75 L783.69 40.67 L784.63 40.60 L785.58 40.53 L786.53 40.46 L787.47 40.39 L788.42 40.32 L789.36 40.25 L790.31 40.19 L791.26 40.12 L792.20 40.06 L793.15 40.00 L794.09 39.94 L795.04 39.88 L795.99 39.83 L796.93 39.77 L797.88 39.71 L798.83 39.66 L799.77 39.61 L800.72 39.55 L801.66 39.50 L802.61 39.45 L803.56 39.40 L804.50 39.35 L805.45 39.31 L806.39 39.26 L807.34 39.21 L808.29 39.17 L809.23 39.12 L810.18 39.08 L811.12 39.04 L812.07 38.99 L813.02 38.95 L813.96 38.91 L814.91 38.87 L815.86 38.83 L816.80 38.80 L817.75 38.76 L818.69 38.72 L819.64 38.69 L820.59 38.65 L821.53 38.62 L822.48 38.58 L823.42 38.55 L824.37 38.51 L825.32 38.48 L826.26 38.45 L827.21 38.42 L828.16 38.39 L829.10 38.36 L830.05 38.33 L830.99 38.30 L831.94 38.27 L832.89 38.24 L833.83 38.22 L834.78 38.19 L835.72 38.16 L836.67 38.14 L837.62 38.11 L838.56 38.08 L839.51 38.06 L840.45 38.04 L841.40 38.01 L842.35 37.99 L843.29 37.96 L844.24 37.94 L845.19 37.92 L846.13 37.90 L847.08 37.88 L848.02 37.85 L848.97 37.83 L849.92 37.81 L850.86 37.79 L851.81 37.77 L852.75 37.75 L853.70 37.74 L854.65 37.72 L855.59 37.70 L856.54 37.68 L857.48 37.66 L858.43 37.64 L859.38 37.63 L860.32 37.61 L861.27 37.59 L862.22 37.58 L863.16 37.56 L864.11 37.55 L865.05 37.53 L866.00 37.52 L866.95 37.50 L867.89 37.49 L868.84 37.47 L869.78 37.46 L870.73 37.44 L871.68 37.43 L872.62 37.42 L873.57 37.40 L874.51 37.39 L875.46 37.38 L876.41 37.37 L877.35 37.35 L878.30 37.34 L879.25 37.33 L880.19 37.32 L881.14 37.31 L882.08 37.29 L883.03 37.28 L883.98 37.27 L884.92 37.26 L885.87 37.25 L886.81 37.24 L887.76 37.23 L888.71 37.22 L889.65 37.21 L890.60 37.20 L891.54 37.19 L892.49 37.18 L893.44 37.17 L894.38 37.16 L895.33 37.16 L896.28 37.15 L897.22 37.14 L898.17 37.13 L899.11 37.12 L900.06 37.11 L901.01 37.11 L901.95 37.10 L902.90 37.09 L903.84 37.08 L904.79 37.08 L905.74 37.07 L906.68 37.06 L907.63 37.05 L908.57 37.05 L909.52 37.04 L910.47 37.03 L911.41 37.03 L912.36 37.02 L913.31 37.01 L914.25 37.01 L915.20 37.00 L916.14 37.00 L917.09 36.99 L918.04 36.98 L918.98 36.98 L919.93 36.97 L920.87 36.97 L921.82 36.96 L922.77 36.96 L923.71 36.95 L924.66 36.95 L925.60 36.94 L926.55 36.94 L927.50 36.93 L928.44 36.93 L929.39 36.92 L930.34 36.92 L931.28 36.91 L932.23 36.91 L933.17 36.90 L934.12 36.90 L935.07 36.89 L936.01 36.89 L936.96 36.89 L937.90 36.88 L938.85 36.88 L939.80 36.87 L940.74 36.87 L941.69 36.87 L942.63 36.86 L943.58 36.86 L944.53 36.86 L945.47 36.85 L946.42 36.85 L947.37 36.85 L948.31 36.84 L949.26 36.84 L950.20 36.84 L951.15 36.83" fill="none" stroke="#00b050" stroke-width="3.8" stroke-linejoin="round" stroke-linecap="round" stroke-dasharray="4.0 5.6"/>
<text x="494.60" y="26.40" font-size="34" text-anchor="start" fill="#000">(b)</text>
<text x="515.00" y="190.40" font-size="23" text-anchor="middle" fill="#000" textLength="34.30" lengthAdjust="spacingAndGlyphs" transform="rotate(-90 515.00 190.40)">F(x)</text>
<text x="763.00" y="411.20" font-size="22.5" text-anchor="middle" fill="#000">x</text>
<text x="646.50" y="328.00" font-size="18.5" transform="rotate(-90 646.50 328.00)"><tspan textLength="97.4" lengthAdjust="spacingAndGlyphs">Threshold x</tspan><tspan dy="8.6" font-size="13.5" textLength="38.3" lengthAdjust="spacingAndGlyphs">lower</tspan></text>
<text x="682.90" y="328.00" font-size="18.5" transform="rotate(-90 682.90 328.00)"><tspan textLength="97.4" lengthAdjust="spacingAndGlyphs">Threshold x</tspan><tspan dy="8.6" font-size="13.5" textLength="41.5" lengthAdjust="spacingAndGlyphs">upper</tspan></text>
<path d="M745.5 197.50 H791.25" stroke="#000" stroke-width="3.4"/>
<path d="M745.5 241.75 H791.25" stroke="#ff0000" stroke-width="2.9"/>
<path d="M746 284.70 H792" stroke="#7030a0" stroke-width="4.0" stroke-dasharray="7.2 11.8" stroke-linecap="round"/>
<path d="M746 328.70 H792" stroke="#00b050" stroke-width="4.0" stroke-dasharray="4.1 6.1" stroke-linecap="round"/>
<text x="800.50" y="202.50" font-size="18" text-anchor="start" fill="#000" textLength="37.50" lengthAdjust="spacingAndGlyphs">Base</text>
<text x="799.50" y="246.75" font-size="18" text-anchor="start" fill="#000" textLength="131.00" lengthAdjust="spacingAndGlyphs">Adjusted, P=1.0</text>
<text x="799.50" y="289.70" font-size="18" text-anchor="start" fill="#000" textLength="131.00" lengthAdjust="spacingAndGlyphs">Adjusted, P=0.8</text>
<text x="799.50" y="333.70" font-size="18" text-anchor="start" fill="#000" textLength="131.00" lengthAdjust="spacingAndGlyphs">Adjusted, P=0.4</text>
</g>
<g id="panel-c">
<path d="M1074.20 35.75 H1448.70 V346.75 H1074.20 Z" fill="none" stroke="#000000" stroke-width="1.5"/>
<path d="M1067.20 35.75 H1074.20" stroke="#000000" stroke-width="1.4"/>
<text x="1058.80" y="43.25" font-size="22.5" text-anchor="end" fill="#000">1</text>
<path d="M1067.20 139.42 H1074.20" stroke="#000000" stroke-width="1.4"/>
<text x="1058.80" y="146.92" font-size="22.5" text-anchor="end" fill="#000">0.1</text>
<path d="M1067.20 243.08 H1074.20" stroke="#000000" stroke-width="1.4"/>
<text x="1058.80" y="250.58" font-size="22.5" text-anchor="end" fill="#000">0.01</text>
<path d="M1067.20 346.75 H1074.20" stroke="#000000" stroke-width="1.4"/>
<text x="1058.80" y="354.25" font-size="22.5" text-anchor="end" fill="#000">0.001</text>
<path d="M1074.20 346.75 V353.25" stroke="#000000" stroke-width="1.4"/>
<text x="1075.40" y="381.20" font-size="22.5" text-anchor="middle" fill="#000">1</text>
<path d="M1199.03 346.75 V353.25" stroke="#000000" stroke-width="1.4"/>
<text x="1201.33" y="381.20" font-size="22.5" text-anchor="middle" fill="#000">10</text>
<path d="M1323.87 346.75 V353.25" stroke="#000000" stroke-width="1.4"/>
<text x="1327.17" y="381.20" font-size="22.5" text-anchor="middle" fill="#000">100</text>
<path d="M1448.70 346.75 V353.25" stroke="#000000" stroke-width="1.4"/>
<text x="1451.50" y="381.20" font-size="22.5" text-anchor="middle" fill="#000">1000</text>
<path d="M1125 82.3 V346.75" stroke="#000" stroke-width="2" stroke-dasharray="4.6 5.75"/>
<path d="M1125 88.4 V346.75" stroke="#888" stroke-width="2" stroke-dasharray="1.3 9.05"/>
<path d="M1198.4 143.75 V346.75" stroke="#000" stroke-width="2" stroke-dasharray="4 6.3"/>
<path d="M1074.20 35.75 L1075.14 36.60 L1076.08 37.46 L1077.02 38.31 L1077.95 39.16 L1078.89 40.01 L1079.83 40.86 L1080.77 41.71 L1081.71 42.56 L1082.65 43.40 L1083.59 44.25 L1084.52 45.09 L1085.46 45.92 L1086.40 46.76 L1087.34 47.59 L1088.28 48.42 L1089.22 49.25 L1090.16 50.07 L1091.09 50.89 L1092.03 51.71 L1092.97 52.52 L1093.91 53.33 L1094.85 54.13 L1095.79 54.93 L1096.73 55.73 L1097.66 56.52 L1098.60 57.31 L1099.54 58.09 L1100.48 58.87 L1101.42 59.65 L1102.36 60.42 L1103.30 61.19 L1104.24 61.95 L1105.17 62.71 L1106.11 63.47 L1107.05 64.22 L1107.99 64.96 L1108.93 65.71 L1109.87 66.45 L1110.81 67.18 L1111.74 67.92 L1112.68 68.65 L1113.62 69.37 L1114.56 70.10 L1115.50 70.82 L1116.44 71.54 L1117.38 72.25 L1118.31 72.97 L1119.25 73.68 L1120.19 74.39 L1121.13 75.10 L1122.07 75.81 L1123.01 76.52 L1123.95 77.22 L1124.88 77.93 L1125.82 78.63 L1126.00 78.77 L1126.76 79.40 L1127.70 80.18 L1128.64 80.96 L1129.58 81.74 L1130.52 82.52 L1131.45 83.30 L1132.39 84.08 L1133.33 84.86 L1134.27 85.63 L1135.21 86.41 L1136.15 87.19 L1137.09 87.97 L1138.02 88.75 L1138.96 89.53 L1139.90 90.31 L1140.84 91.09 L1141.78 91.87 L1142.72 92.65 L1143.66 93.43 L1144.59 94.21 L1145.53 94.99 L1146.47 95.77 L1147.41 96.55 L1148.35 97.33 L1149.29 98.11 L1150.23 98.89 L1151.16 99.66 L1152.10 100.44 L1153.04 101.22 L1153.98 102.00 L1154.92 102.78 L1155.86 103.56 L1156.80 104.34 L1157.74 105.12 L1158.67 105.90 L1159.61 106.68 L1160.55 107.46 L1161.49 108.24 L1162.43 109.02 L1163.37 109.80 L1164.31 110.58 L1165.24 111.36 L1166.18 112.14 L1167.12 112.92 L1168.06 113.69 L1169.00 114.47 L1169.94 115.25 L1170.88 116.03 L1171.81 116.81 L1172.75 117.59 L1173.69 118.37 L1174.63 119.15 L1175.57 119.93 L1176.51 120.71 L1177.45 121.49 L1178.38 122.27 L1179.32 123.05 L1180.26 123.83 L1181.20 124.61 L1182.14 125.39 L1183.08 126.17 L1184.02 126.95 L1184.95 127.72 L1185.89 128.50 L1186.83 129.28 L1187.77 130.06 L1188.71 130.84 L1189.65 131.62 L1190.59 132.40 L1191.52 133.18 L1192.46 133.96 L1193.40 134.74 L1194.34 135.52 L1195.28 136.30 L1196.22 137.08 L1197.16 137.86 L1198.09 138.64 L1199.03 139.42 L1199.97 140.20 L1200.91 140.98 L1201.85 141.76 L1202.79 142.53 L1203.73 143.31 L1204.66 144.09 L1205.60 144.87 L1206.54 145.65 L1207.48 146.43 L1208.42 147.21 L1209.36 147.99 L1210.30 148.77 L1211.24 149.55 L1212.17 150.33 L1213.11 151.11 L1214.05 151.89 L1214.99 152.67 L1215.93 153.45 L1216.87 154.23 L1217.81 155.01 L1218.74 155.79 L1219.68 156.56 L1220.62 157.34 L1221.56 158.12 L1222.50 158.90 L1223.44 159.68 L1224.38 160.46 L1225.31 161.24 L1226.25 162.02 L1227.19 162.80 L1228.13 163.58 L1229.07 164.36 L1230.01 165.14 L1230.95 165.92 L1231.88 166.70 L1232.82 167.48 L1233.76 168.26 L1234.70 169.04 L1235.64 169.82 L1236.58 170.59 L1237.52 171.37 L1238.45 172.15 L1239.39 172.93 L1240.33 173.71 L1241.27 174.49 L1242.21 175.27 L1243.15 176.05 L1244.09 176.83 L1245.02 177.61 L1245.96 178.39 L1246.90 179.17 L1247.84 179.95 L1248.78 180.73 L1249.72 181.51 L1250.66 182.29 L1251.59 183.07 L1252.53 183.85 L1253.47 184.62 L1254.41 185.40 L1255.35 186.18 L1256.29 186.96 L1257.23 187.74 L1258.16 188.52 L1259.10 189.30 L1260.04 190.08 L1260.98 190.86 L1261.92 191.64 L1262.86 192.42 L1263.80 193.20 L1264.74 193.98 L1265.67 194.76 L1266.61 195.54 L1267.55 196.32 L1268.49 197.10 L1269.43 197.88 L1270.37 198.65 L1271.31 199.43 L1272.24 200.21 L1273.18 200.99 L1274.12 201.77 L1275.06 202.55 L1276.00 203.33 L1276.94 204.11 L1277.88 204.89 L1278.81 205.67 L1279.75 206.45 L1280.69 207.23 L1281.63 208.01 L1282.57 208.79 L1283.51 209.57 L1284.45 210.35 L1285.38 211.13 L1286.32 211.91 L1287.26 212.68 L1288.20 213.46 L1289.14 214.24 L1290.08 215.02 L1291.02 215.80 L1291.95 216.58 L1292.89 217.36 L1293.83 218.14 L1294.77 218.92 L1295.71 219.70 L1296.65 220.48 L1297.59 221.26 L1298.52 222.04 L1299.46 222.82 L1300.40 223.60 L1301.34 224.38 L1302.28 225.16 L1303.22 225.94 L1304.16 226.71 L1305.09 227.49 L1306.03 228.27 L1306.97 229.05 L1307.91 229.83 L1308.85 230.61 L1309.79 231.39 L1310.73 232.17 L1311.66 232.95 L1312.60 233.73 L1313.54 234.51 L1314.48 235.29 L1315.42 236.07 L1316.36 236.85 L1317.30 237.63 L1318.24 238.41 L1319.17 239.19 L1320.11 239.97 L1321.05 240.74 L1321.99 241.52 L1322.93 242.30 L1323.87 243.08 L1324.81 243.86 L1325.74 244.64 L1326.68 245.42 L1327.62 246.20 L1328.56 246.98 L1329.50 247.76 L1330.44 248.54 L1331.38 249.32 L1332.31 250.10 L1333.25 250.88 L1334.19 251.66 L1335.13 252.44 L1336.07 253.22 L1337.01 254.00 L1337.95 254.78 L1338.88 255.55 L1339.82 256.33 L1340.76 257.11 L1341.70 257.89 L1342.64 258.67 L1343.58 259.45 L1344.52 260.23 L1345.45 261.01 L1346.39 261.79 L1347.33 262.57 L1348.27 263.35 L1349.21 264.13 L1350.15 264.91 L1351.09 265.69 L1352.02 266.47 L1352.96 267.25 L1353.90 268.03 L1354.84 268.81 L1355.78 269.58 L1356.72 270.36 L1357.66 271.14 L1358.59 271.92 L1359.53 272.70 L1360.47 273.48 L1361.41 274.26 L1362.35 275.04 L1363.29 275.82 L1364.23 276.60 L1365.16 277.38 L1366.10 278.16 L1367.04 278.94 L1367.98 279.72 L1368.92 280.50 L1369.86 281.28 L1370.80 282.06 L1371.74 282.84 L1372.67 283.61 L1373.61 284.39 L1374.55 285.17 L1375.49 285.95 L1376.43 286.73 L1377.37 287.51 L1378.31 288.29 L1379.24 289.07 L1380.18 289.85 L1381.12 290.63 L1382.06 291.41 L1383.00 292.19 L1383.94 292.97 L1384.88 293.75 L1385.81 294.53 L1386.75 295.31 L1387.69 296.09 L1388.63 296.87 L1389.57 297.64 L1390.51 298.42 L1391.45 299.20 L1392.38 299.98 L1393.32 300.76 L1394.26 301.54 L1395.20 302.32 L1396.14 303.10 L1397.08 303.88 L1398.02 304.66 L1398.95 305.44 L1399.89 306.22 L1400.83 307.00 L1401.77 307.78 L1402.71 308.56 L1403.65 309.34 L1404.59 310.12 L1405.52 310.90 L1406.46 311.67 L1407.40 312.45 L1408.34 313.23 L1409.28 314.01 L1410.22 314.79 L1411.16 315.57 L1412.09 316.35 L1413.03 317.13 L1413.97 317.91 L1414.91 318.69 L1415.85 319.47 L1416.79 320.25 L1417.73 321.03 L1418.66 321.81 L1419.60 322.59 L1420.54 323.37 L1421.48 324.15 L1422.42 324.93 L1423.36 325.70 L1424.30 326.48 L1425.24 327.26 L1426.17 328.04 L1427.11 328.82 L1428.05 329.60 L1428.99 330.38 L1429.93 331.16 L1430.87 331.94 L1431.81 332.72 L1432.74 333.50 L1433.68 334.28 L1434.62 335.06 L1435.56 335.84 L1436.50 336.62 L1437.44 337.40 L1438.38 338.18 L1439.31 338.96 L1440.25 339.73 L1441.19 340.51 L1442.13 341.29 L1443.07 342.07 L1444.01 342.85 L1444.95 343.63 L1445.88 344.41 L1446.82 345.19 L1447.76 345.97 L1448.70 346.75 L1450.62 348.35" fill="none" stroke="#000000" stroke-width="3.4" stroke-linejoin="round" stroke-linecap="butt"/>
<path d="M1073.50 36.60 L1074.85 36.75 L1076.19 36.93 L1077.54 37.13 L1078.88 37.34 L1080.23 37.57 L1081.58 37.84 L1082.92 38.18 L1084.27 38.64 L1085.62 39.19 L1086.96 39.80 L1088.31 40.45 L1089.65 41.11 L1091.00 41.75 L1092.35 42.35 L1093.69 42.92 L1095.04 43.49 L1096.38 44.09 L1097.73 44.75 L1099.08 45.49 L1100.42 46.34 L1101.77 47.40 L1103.12 48.88 L1104.46 50.63 L1105.81 52.45 L1107.15 54.14 L1108.50 55.65 L1109.85 57.11 L1111.19 58.56 L1112.54 60.02 L1113.88 61.54 L1115.23 63.05 L1116.58 64.57 L1117.92 66.16 L1119.27 67.86 L1120.62 69.73 L1121.96 71.80 L1123.31 74.02 L1124.65 76.38 L1126.00 78.90 L1127.70 80.18 L1128.64 80.96 L1129.58 81.74 L1130.52 82.52 L1131.45 83.30 L1132.39 84.08 L1133.33 84.86 L1134.27 85.63 L1135.21 86.41 L1136.15 87.19 L1137.09 87.97 L1138.02 88.75 L1138.96 89.53 L1139.90 90.31 L1140.84 91.09 L1141.78 91.87 L1142.72 92.65 L1143.66 93.43 L1144.59 94.21 L1145.53 94.99 L1146.47 95.77 L1147.41 96.55 L1148.35 97.33 L1149.29 98.11 L1150.23 98.89 L1151.16 99.66 L1152.10 100.44 L1153.04 101.22 L1153.98 102.00 L1154.92 102.78 L1155.86 103.56 L1156.80 104.34 L1157.74 105.12 L1158.67 105.90 L1159.61 106.68 L1160.55 107.46 L1161.49 108.24 L1162.43 109.02 L1163.37 109.80 L1164.31 110.58 L1165.24 111.36 L1166.18 112.14 L1167.12 112.92 L1168.06 113.69 L1169.00 114.47 L1169.94 115.25 L1170.88 116.03 L1171.81 116.81 L1172.75 117.59 L1173.69 118.37 L1174.63 119.15 L1175.57 119.93 L1176.51 120.71 L1177.45 121.49 L1178.38 122.27 L1179.32 123.05 L1180.26 123.83 L1181.20 124.61 L1182.14 125.39 L1183.08 126.17 L1184.02 126.95 L1184.95 127.72 L1185.89 128.50 L1186.83 129.28 L1187.77 130.06 L1188.71 130.84 L1189.65 131.62 L1190.59 132.40 L1191.52 133.18 L1192.46 133.96 L1193.40 134.74 L1194.34 135.52 L1195.28 136.30 L1196.22 137.08 L1197.16 137.86 L1198.09 138.64 L1199.03 139.42 L1199.97 140.98 L1200.91 142.53 L1201.85 144.09 L1202.79 145.65 L1203.73 147.21 L1204.66 148.77 L1205.60 150.33 L1206.54 151.89 L1207.48 153.45 L1208.42 155.01 L1209.36 156.56 L1210.30 158.12 L1211.24 159.68 L1212.17 161.24 L1213.11 162.80 L1214.05 164.36 L1214.99 165.92 L1215.93 167.48 L1216.87 169.04 L1217.81 170.59 L1218.74 172.15 L1219.68 173.71 L1220.62 175.27 L1221.56 176.83 L1222.50 178.39 L1223.44 179.95 L1224.38 181.51 L1225.31 183.07 L1226.25 184.62 L1227.19 186.18 L1228.13 187.74 L1229.07 189.30 L1230.01 190.86 L1230.95 192.42 L1231.88 193.98 L1232.82 195.54 L1233.76 197.10 L1234.70 198.65 L1235.64 200.21 L1236.58 201.77 L1237.52 203.33 L1238.45 204.89 L1239.39 206.45 L1240.33 208.01 L1241.27 209.57 L1242.21 211.13 L1243.15 212.68 L1244.09 214.24 L1245.02 215.80 L1245.96 217.36 L1246.90 218.92 L1247.84 220.48 L1248.78 222.04 L1249.72 223.60 L1250.66 225.16 L1251.59 226.71 L1252.53 228.27 L1253.47 229.83 L1254.41 231.39 L1255.35 232.95 L1256.29 234.51 L1257.23 236.07 L1258.16 237.63 L1259.10 239.19 L1260.04 240.74 L1260.98 242.30 L1261.92 243.86 L1262.86 245.42 L1263.80 246.98 L1264.74 248.54 L1265.67 250.10 L1266.61 251.66 L1267.55 253.22 L1268.49 254.78 L1269.43 256.33 L1270.37 257.89 L1271.31 259.45 L1272.24 261.01 L1273.18 262.57 L1274.12 264.13 L1275.06 265.69 L1276.00 267.25 L1276.94 268.81 L1277.88 270.36 L1278.81 271.92 L1279.75 273.48 L1280.69 275.04 L1281.63 276.60 L1282.57 278.16 L1283.51 279.72 L1284.45 281.28 L1285.38 282.84 L1286.32 284.39 L1287.26 285.95 L1288.20 287.51 L1289.14 289.07 L1290.08 290.63 L1291.02 292.19 L1291.95 293.75 L1292.89 295.31 L1293.83 296.87 L1294.77 298.42 L1295.71 299.98 L1296.65 301.54 L1297.59 303.10 L1298.52 304.66 L1299.46 306.22 L1300.40 307.78 L1301.34 309.34 L1302.28 310.90 L1303.22 312.45 L1304.16 314.01 L1305.09 315.57 L1306.03 317.13 L1306.97 318.69 L1307.91 320.25 L1308.85 321.81 L1309.79 323.37 L1310.73 324.93 L1311.66 326.48 L1312.60 328.04 L1313.54 329.60 L1314.48 331.16 L1315.42 332.72 L1316.36 334.28 L1317.30 335.84 L1318.24 337.40 L1319.17 338.96 L1320.11 340.51 L1321.05 342.07 L1321.99 343.63 L1322.93 345.19 L1323.87 346.75 L1324.81 348.31 L1325.74 349.87 L1326.52 351.15" fill="none" stroke="#ff0000" stroke-width="3.4" stroke-linejoin="round" stroke-linecap="butt"/>
<path d="M1073.50 36.60 L1074.85 36.75 L1076.19 36.93 L1077.54 37.13 L1078.88 37.34 L1080.23 37.57 L1081.58 37.84 L1082.92 38.18 L1084.27 38.64 L1085.62 39.19 L1086.96 39.80 L1088.31 40.45 L1089.65 41.11 L1091.00 41.75 L1092.35 42.35 L1093.69 42.92 L1095.04 43.49 L1096.38 44.09 L1097.73 44.75 L1099.08 45.49 L1100.42 46.34 L1101.77 47.40 L1103.12 48.88 L1104.46 50.63 L1105.81 52.45 L1107.15 54.14 L1108.50 55.65 L1109.85 57.11 L1111.19 58.56 L1112.54 60.02 L1113.88 61.54 L1115.23 63.05 L1116.58 64.57 L1117.92 66.16 L1119.27 67.86 L1120.62 69.73 L1121.96 71.80 L1123.31 74.02 L1124.65 76.38 L1126.00 78.90 L1127.70 80.18 L1128.64 80.96 L1129.58 81.74 L1130.52 82.52 L1131.45 83.30 L1132.39 84.08 L1133.33 84.86 L1134.27 85.63 L1135.21 86.41 L1136.15 87.19 L1137.09 87.97 L1138.02 88.75 L1138.96 89.53 L1139.90 90.31 L1140.84 91.09 L1141.78 91.87 L1142.72 92.65 L1143.66 93.43 L1144.59 94.21 L1145.53 94.99 L1146.47 95.77 L1147.41 96.55 L1148.35 97.33 L1149.29 98.11 L1150.23 98.89 L1151.16 99.66 L1152.10 100.44 L1153.04 101.22 L1153.98 102.00 L1154.92 102.78 L1155.86 103.56 L1156.80 104.34 L1157.74 105.12 L1158.67 105.90 L1159.61 106.68 L1160.55 107.46 L1161.49 108.24 L1162.43 109.02 L1163.37 109.80 L1164.31 110.58 L1165.24 111.36 L1166.18 112.14 L1167.12 112.92 L1168.06 113.69 L1169.00 114.47 L1169.94 115.25 L1170.88 116.03 L1171.81 116.81 L1172.75 117.59 L1173.69 118.37 L1174.63 119.15 L1175.57 119.93 L1176.51 120.71 L1177.45 121.49 L1178.38 122.27 L1179.32 123.05 L1180.26 123.83 L1181.20 124.61 L1182.14 125.39 L1183.08 126.17 L1184.02 126.95 L1184.95 127.72 L1185.89 128.50 L1186.83 129.28 L1187.77 130.06 L1188.71 130.84 L1189.65 131.62 L1190.59 132.40 L1191.52 133.18 L1192.46 133.96 L1193.40 134.74 L1194.34 135.52 L1195.28 136.30 L1196.22 137.08 L1197.16 137.86 L1198.09 138.64 L1199.03 139.42 L1199.97 140.82 L1200.91 142.22 L1201.85 143.62 L1202.79 145.01 L1203.73 146.40 L1204.66 147.80 L1205.60 149.18 L1206.54 150.57 L1207.48 151.95 L1208.42 153.34 L1209.36 154.71 L1210.30 156.09 L1211.24 157.47 L1212.17 158.84 L1213.11 160.21 L1214.05 161.57 L1214.99 162.94 L1215.93 164.30 L1216.87 165.66 L1217.81 167.02 L1218.74 168.37 L1219.68 169.72 L1220.62 171.07 L1221.56 172.42 L1222.50 173.76 L1223.44 175.10 L1224.38 176.44 L1225.31 177.77 L1226.25 179.11 L1227.19 180.43 L1228.13 181.76 L1229.07 183.09 L1230.01 184.41 L1230.95 185.73 L1231.88 187.04 L1232.82 188.35 L1233.76 189.66 L1234.70 190.97 L1235.64 192.27 L1236.58 193.57 L1237.52 194.87 L1238.45 196.17 L1239.39 197.46 L1240.33 198.75 L1241.27 200.03 L1242.21 201.31 L1243.15 202.59 L1244.09 203.87 L1245.02 205.14 L1245.96 206.41 L1246.90 207.68 L1247.84 208.94 L1248.78 210.20 L1249.72 211.46 L1250.66 212.72 L1251.59 213.97 L1252.53 215.21 L1253.47 216.46 L1254.41 217.70 L1255.35 218.94 L1256.29 220.17 L1257.23 221.40 L1258.16 222.63 L1259.10 223.86 L1260.04 225.08 L1260.98 226.30 L1261.92 227.51 L1262.86 228.72 L1263.80 229.93 L1264.74 231.13 L1265.67 232.34 L1266.61 233.53 L1267.55 234.73 L1268.49 235.92 L1269.43 237.11 L1270.37 238.29 L1271.31 239.47 L1272.24 240.65 L1273.18 241.83 L1274.12 243.00 L1275.06 244.16 L1276.00 245.33 L1276.94 246.49 L1277.88 247.65 L1278.81 248.80 L1279.75 249.95 L1280.69 251.10 L1281.63 252.24 L1282.57 253.39 L1283.51 254.52 L1284.45 255.66 L1285.38 256.79 L1286.32 257.91 L1287.26 259.04 L1288.20 260.16 L1289.14 261.28 L1290.08 262.39 L1291.02 263.50 L1291.95 264.61 L1292.89 265.71 L1293.83 266.81 L1294.77 267.91 L1295.71 269.01 L1296.65 270.10 L1297.59 271.19 L1298.52 272.27 L1299.46 273.35 L1300.40 274.43 L1301.34 275.51 L1302.28 276.58 L1303.22 277.65 L1304.16 278.71 L1305.09 279.78 L1306.03 280.83 L1306.97 281.89 L1307.91 282.94 L1308.85 283.99 L1309.79 285.04 L1310.73 286.09 L1311.66 287.13 L1312.60 288.16 L1313.54 289.20 L1314.48 290.23 L1315.42 291.26 L1316.36 292.29 L1317.30 293.31 L1318.24 294.33 L1319.17 295.35 L1320.11 296.36 L1321.05 297.38 L1321.99 298.38 L1322.93 299.39 L1323.87 300.39 L1324.81 301.40 L1325.74 302.39 L1326.68 303.39 L1327.62 304.38 L1328.56 305.37 L1329.50 306.36 L1330.44 307.34 L1331.38 308.33 L1332.31 309.30 L1333.25 310.28 L1334.19 311.26 L1335.13 312.23 L1336.07 313.20 L1337.01 314.16 L1337.95 315.13 L1338.88 316.09 L1339.82 317.05 L1340.76 318.01 L1341.70 318.96 L1342.64 319.92 L1343.58 320.87 L1344.52 321.81 L1345.45 322.76 L1346.39 323.70 L1347.33 324.64 L1348.27 325.58 L1349.21 326.52 L1350.15 327.45 L1351.09 328.39 L1352.02 329.32 L1352.96 330.24 L1353.90 331.17 L1354.84 332.09 L1355.78 333.02 L1356.72 333.94 L1357.66 334.85 L1358.59 335.77 L1359.53 336.69 L1360.47 337.60 L1361.41 338.51 L1362.35 339.42 L1363.29 340.32 L1364.23 341.23 L1365.16 342.13 L1366.10 343.03 L1367.04 343.93 L1367.98 344.83 L1368.92 345.73 L1369.86 346.62 L1370.80 347.51 L1371.74 348.40 L1372.67 349.29" fill="none" stroke="#7030a0" stroke-width="3.5" stroke-linejoin="round" stroke-linecap="round" stroke-dasharray="5.6 9.4"/>
<path d="M1073.50 36.60 L1074.85 36.75 L1076.19 36.93 L1077.54 37.13 L1078.88 37.34 L1080.23 37.57 L1081.58 37.84 L1082.92 38.18 L1084.27 38.64 L1085.62 39.19 L1086.96 39.80 L1088.31 40.45 L1089.65 41.11 L1091.00 41.75 L1092.35 42.35 L1093.69 42.92 L1095.04 43.49 L1096.38 44.09 L1097.73 44.75 L1099.08 45.49 L1100.42 46.34 L1101.77 47.40 L1103.12 48.88 L1104.46 50.63 L1105.81 52.45 L1107.15 54.14 L1108.50 55.65 L1109.85 57.11 L1111.19 58.56 L1112.54 60.02 L1113.88 61.54 L1115.23 63.05 L1116.58 64.57 L1117.92 66.16 L1119.27 67.86 L1120.62 69.73 L1121.96 71.80 L1123.31 74.02 L1124.65 76.38 L1126.00 78.90 L1127.70 80.18 L1128.64 80.96 L1129.58 81.74 L1130.52 82.52 L1131.45 83.30 L1132.39 84.08 L1133.33 84.86 L1134.27 85.63 L1135.21 86.41 L1136.15 87.19 L1137.09 87.97 L1138.02 88.75 L1138.96 89.53 L1139.90 90.31 L1140.84 91.09 L1141.78 91.87 L1142.72 92.65 L1143.66 93.43 L1144.59 94.21 L1145.53 94.99 L1146.47 95.77 L1147.41 96.55 L1148.35 97.33 L1149.29 98.11 L1150.23 98.89 L1151.16 99.66 L1152.10 100.44 L1153.04 101.22 L1153.98 102.00 L1154.92 102.78 L1155.86 103.56 L1156.80 104.34 L1157.74 105.12 L1158.67 105.90 L1159.61 106.68 L1160.55 107.46 L1161.49 108.24 L1162.43 109.02 L1163.37 109.80 L1164.31 110.58 L1165.24 111.36 L1166.18 112.14 L1167.12 112.92 L1168.06 113.69 L1169.00 114.47 L1169.94 115.25 L1170.88 116.03 L1171.81 116.81 L1172.75 117.59 L1173.69 118.37 L1174.63 119.15 L1175.57 119.93 L1176.51 120.71 L1177.45 121.49 L1178.38 122.27 L1179.32 123.05 L1180.26 123.83 L1181.20 124.61 L1182.14 125.39 L1183.08 126.17 L1184.02 126.95 L1184.95 127.72 L1185.89 128.50 L1186.83 129.28 L1187.77 130.06 L1188.71 130.84 L1189.65 131.62 L1190.59 132.40 L1191.52 133.18 L1192.46 133.96 L1193.40 134.74 L1194.34 135.52 L1195.28 136.30 L1196.22 137.08 L1197.16 137.86 L1198.09 138.64 L1199.03 139.42" fill="none" stroke="#00b050" stroke-width="3.8" stroke-linejoin="round" stroke-linecap="round" stroke-dasharray="4.0 5.6"/>
<path d="M1199.03 139.42 L1199.97 140.51 L1200.91 141.59 L1201.85 142.68 L1202.79 143.76 L1203.73 144.83 L1204.66 145.91 L1205.60 146.98 L1206.54 148.04 L1207.48 149.11 L1208.42 150.17 L1209.36 151.23 L1210.30 152.28 L1211.24 153.33 L1212.17 154.38 L1213.11 155.43 L1214.05 156.47 L1214.99 157.51 L1215.93 158.55 L1216.87 159.58 L1217.81 160.61 L1218.74 161.64 L1219.68 162.66 L1220.62 163.69 L1221.56 164.70 L1222.50 165.72 L1223.44 166.73 L1224.38 167.74 L1225.31 168.75 L1226.25 169.76 L1227.19 170.76 L1228.13 171.76 L1229.07 172.76 L1230.01 173.75 L1230.95 174.74 L1231.88 175.73 L1232.82 176.72 L1233.76 177.70 L1234.70 178.68 L1235.64 179.66 L1236.58 180.63 L1237.52 181.61 L1238.45 182.58 L1239.39 183.55 L1240.33 184.51 L1241.27 185.47 L1242.21 186.44 L1243.15 187.39 L1244.09 188.35 L1245.02 189.30 L1245.96 190.25 L1246.90 191.20 L1247.84 192.15 L1248.78 193.10 L1249.72 194.04 L1250.66 194.98 L1251.59 195.92 L1252.53 196.85 L1253.47 197.78 L1254.41 198.72 L1255.35 199.65 L1256.29 200.57 L1257.23 201.50 L1258.16 202.42 L1259.10 203.34 L1260.04 204.26 L1260.98 205.18 L1261.92 206.09 L1262.86 207.01 L1263.80 207.92 L1264.74 208.83 L1265.67 209.73 L1266.61 210.64 L1267.55 211.54 L1268.49 212.45 L1269.43 213.35 L1270.37 214.25 L1271.31 215.14 L1272.24 216.04 L1273.18 216.93 L1274.12 217.82 L1275.06 218.71 L1276.00 219.60 L1276.94 220.49 L1277.88 221.37 L1278.81 222.26 L1279.75 223.14 L1280.69 224.02 L1281.63 224.90 L1282.57 225.78 L1283.51 226.65 L1284.45 227.53 L1285.38 228.40 L1286.32 229.27 L1287.26 230.14 L1288.20 231.01 L1289.14 231.88 L1290.08 232.75 L1291.02 233.61 L1291.95 234.47 L1292.89 235.34 L1293.83 236.20 L1294.77 237.06 L1295.71 237.92 L1296.65 238.77 L1297.59 239.63 L1298.52 240.48 L1299.46 241.34 L1300.40 242.19 L1301.34 243.04 L1302.28 243.89 L1303.22 244.74 L1304.16 245.59 L1305.09 246.44 L1306.03 247.28 L1306.97 248.13 L1307.91 248.97 L1308.85 249.82 L1309.79 250.66 L1310.73 251.50 L1311.66 252.34 L1312.60 253.18 L1313.54 254.02 L1314.48 254.85 L1315.42 255.69 L1316.36 256.52 L1317.30 257.36 L1318.24 258.19 L1319.17 259.03 L1320.11 259.86 L1321.05 260.69 L1321.99 261.52 L1322.93 262.35 L1323.87 263.18 L1324.81 264.00 L1325.74 264.83 L1326.68 265.66 L1327.62 266.48 L1328.56 267.31 L1329.50 268.13 L1330.44 268.95 L1331.38 269.78 L1332.31 270.60 L1333.25 271.42 L1334.19 272.24 L1335.13 273.06 L1336.07 273.88 L1337.01 274.70 L1337.95 275.52 L1338.88 276.33 L1339.82 277.15 L1340.76 277.97 L1341.70 278.78 L1342.64 279.60 L1343.58 280.41 L1344.52 281.22 L1345.45 282.04 L1346.39 282.85 L1347.33 283.66 L1348.27 284.47 L1349.21 285.28 L1350.15 286.09 L1351.09 286.90 L1352.02 287.71 L1352.96 288.52 L1353.90 289.33 L1354.84 290.14 L1355.78 290.95 L1356.72 291.75 L1357.66 292.56 L1358.59 293.37 L1359.53 294.17 L1360.47 294.98 L1361.41 295.78 L1362.35 296.59 L1363.29 297.39 L1364.23 298.19 L1365.16 299.00 L1366.10 299.80 L1367.04 300.60 L1367.98 301.40 L1368.92 302.21 L1369.86 303.01 L1370.80 303.81 L1371.74 304.61 L1372.67 305.41 L1373.61 306.21 L1374.55 307.01 L1375.49 307.81 L1376.43 308.61 L1377.37 309.41 L1378.31 310.20 L1379.24 311.00 L1380.18 311.80 L1381.12 312.60 L1382.06 313.39 L1383.00 314.19 L1383.94 314.99 L1384.88 315.78 L1385.81 316.58 L1386.75 317.37 L1387.69 318.17 L1388.63 318.96 L1389.57 319.76 L1390.51 320.55 L1391.45 321.35 L1392.38 322.14 L1393.32 322.93 L1394.26 323.73 L1395.20 324.52 L1396.14 325.31 L1397.08 326.11 L1398.02 326.90 L1398.95 327.69 L1399.89 328.48 L1400.83 329.28 L1401.77 330.07 L1402.71 330.86 L1403.65 331.65 L1404.59 332.44 L1405.52 333.23 L1406.46 334.02 L1407.40 334.81 L1408.34 335.60 L1409.28 336.39 L1410.22 337.18 L1411.16 337.97 L1412.09 338.76 L1413.03 339.55 L1413.97 340.34 L1414.91 341.13 L1415.85 341.92 L1416.79 342.71 L1417.73 343.50 L1418.66 344.29 L1419.60 345.07 L1420.54 345.86 L1421.48 346.65 L1422.42 347.44 L1423.36 348.23 L1424.30 349.01 L1425.24 349.80" fill="none" stroke="#00b050" stroke-width="3.5" stroke-linejoin="round" stroke-linecap="round" stroke-dasharray="2.4 4.5"/>
<text x="984.20" y="26.40" font-size="34" text-anchor="start" fill="#000">(c)</text>
<text x="1003.60" y="191.00" font-size="23" text-anchor="middle" fill="#000" textLength="54.80" lengthAdjust="spacingAndGlyphs" transform="rotate(-90 1003.60 191.00)">1-F(x)</text>
<text x="1261.00" y="411.20" font-size="22.5" text-anchor="middle" fill="#000">x</text>
<text x="1104.30" y="321.90" font-size="18.5" transform="rotate(-90 1104.30 321.90)"><tspan textLength="97.4" lengthAdjust="spacingAndGlyphs">Threshold x</tspan><tspan dy="8.6" font-size="13.5" textLength="38.5" lengthAdjust="spacingAndGlyphs">lower</tspan></text>
<text x="1180.20" y="321.90" font-size="18.5" transform="rotate(-90 1180.20 321.90)"><tspan textLength="97.4" lengthAdjust="spacingAndGlyphs">Threshold x</tspan><tspan dy="8.6" font-size="13.5" textLength="41.9" lengthAdjust="spacingAndGlyphs">upper</tspan></text>
<text x="1365.50" y="298.50" font-size="19.5" text-anchor="middle" fill="#000" textLength="60.00" lengthAdjust="spacingAndGlyphs" transform="rotate(39.7 1365.50 298.50)" stroke="#000" stroke-width="0.45">parallel</text>
<path d="M1260.3 50.50 H1305" stroke="#000" stroke-width="3.3"/>
<path d="M1260.3 87.60 H1305" stroke="#ff0000" stroke-width="2.8"/>
<path d="M1260 125.00 H1306" stroke="#7030a0" stroke-width="3.9" stroke-dasharray="7.3 11.7" stroke-linecap="round"/>
<path d="M1260 163.50 H1306" stroke="#00b050" stroke-width="3.9" stroke-dasharray="4.2 6" stroke-linecap="round"/>
<text x="1313.80" y="55.20" font-size="18" text-anchor="start" fill="#000" textLength="37.50" lengthAdjust="spacingAndGlyphs">Base</text>
<text x="1312.80" y="92.50" font-size="18" text-anchor="start" fill="#000" textLength="131.00" lengthAdjust="spacingAndGlyphs">Adjusted, P=1.0</text>
<text x="1312.80" y="129.90" font-size="18" text-anchor="start" fill="#000" textLength="131.00" lengthAdjust="spacingAndGlyphs">Adjusted, P=0.8</text>
<text x="1312.80" y="168.40" font-size="18" text-anchor="start" fill="#000" textLength="131.00" lengthAdjust="spacingAndGlyphs">Adjusted, P=0.4</text>
</g>
</svg></body></html>
